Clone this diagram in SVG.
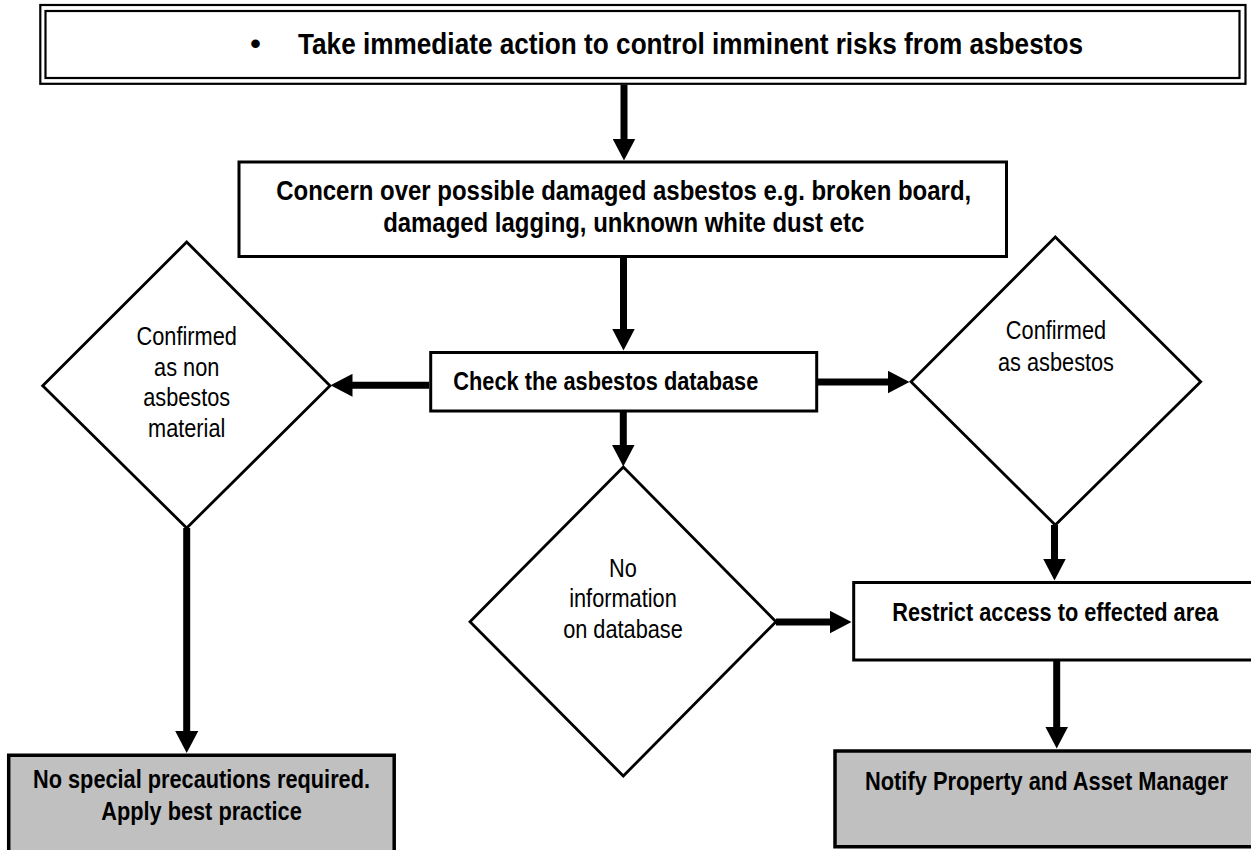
<svg xmlns="http://www.w3.org/2000/svg" width="1251" height="850" viewBox="0 0 1251 850">
<style>
text{font-family:"Liberation Sans",Arial,sans-serif;fill:#000}
.b{font-weight:bold}
.r{font-weight:normal;font-size:25px}
.m{text-anchor:middle}
.box{fill:#fff;stroke:#000;stroke-width:3}
.line{fill:none;stroke:#000;stroke-width:3}
.gline{fill:none;stroke:#000;stroke-width:3.5}
.gfill{fill:#c0c0c0}
.dia{fill:#fff;stroke:#000;stroke-width:2.8;stroke-linejoin:miter}
.con{fill:none;stroke:#000;stroke-width:7}
</style>
<defs>
<marker id="ah" markerUnits="userSpaceOnUse" markerWidth="22" markerHeight="23" viewBox="0 0 22 23" refX="0.5" refY="11.5" orient="auto">
<path d="M0,0 L22,11.5 L0,23 z" fill="#000"/>
</marker>
</defs>
<rect width="1251" height="850" fill="#fff"/>

<g id="connectors">
<path class="con" d="M624,85 V139" marker-end="url(#ah)"/>
<path class="con" d="M623.5,257 V329" marker-end="url(#ah)"/>
<path class="con" d="M429,385.3 H352" marker-end="url(#ah)"/>
<path class="con" d="M818,382 H888" marker-end="url(#ah)"/>
<path class="con" d="M623.3,412 V445" marker-end="url(#ah)"/>
<path class="con" d="M776,622 H830" marker-end="url(#ah)"/>
<path class="con" d="M186.7,528 V731.5" marker-end="url(#ah)"/>
<path class="con" d="M1054.5,525 V559" marker-end="url(#ah)"/>
<path class="con" d="M1056.7,661 V727" marker-end="url(#ah)"/>
</g>

<g id="n-top">
<rect x="40.3" y="5" width="1205.2" height="78.8" fill="#fff" stroke="#000" stroke-width="2.2"/>
<rect x="45.5" y="11" width="1194" height="67" fill="none" stroke="#000" stroke-width="2.2"/>
<text class="b m" x="255.5" y="53.5" font-size="30">•</text>
<text class="b" x="298" y="53.5" font-size="30" textLength="785" lengthAdjust="spacingAndGlyphs">Take immediate action to control imminent risks from asbestos</text>
</g>

<g id="n-concern">
<rect class="box" x="239" y="162" width="767.5" height="94.5"/>
<text class="b m" x="623.7" y="200" font-size="27.5" textLength="695" lengthAdjust="spacingAndGlyphs">Concern over possible damaged asbestos e.g. broken board,</text>
<text class="b m" x="623.7" y="232" font-size="27.5" textLength="481" lengthAdjust="spacingAndGlyphs">damaged lagging, unknown white dust etc</text>
</g>

<g id="n-check">
<rect class="box" x="430.7" y="352.5" width="386" height="58.5"/>
<text class="b" x="453.3" y="390" font-size="25" textLength="305" lengthAdjust="spacingAndGlyphs">Check the asbestos database</text>
</g>

<g id="n-nonasb">
<polygon class="dia" points="186.7,242 330,385.7 186.7,528 42.7,385.7"/>
<text class="r m" x="186.7" y="345" textLength="100.3" lengthAdjust="spacingAndGlyphs">Confirmed</text>
<text class="r m" x="186.7" y="375.7" textLength="65.3" lengthAdjust="spacingAndGlyphs">as non</text>
<text class="r m" x="186.7" y="406.2" textLength="87" lengthAdjust="spacingAndGlyphs">asbestos</text>
<text class="r m" x="186.7" y="436.8" textLength="77.3" lengthAdjust="spacingAndGlyphs">material</text>
</g>

<g id="n-asb">
<polygon class="dia" points="1055.3,237 1200.7,381.7 1055.3,525 911,381.7"/>
<text class="r m" x="1056" y="339.3" textLength="100.3" lengthAdjust="spacingAndGlyphs">Confirmed</text>
<text class="r m" x="1056" y="370.5" textLength="116" lengthAdjust="spacingAndGlyphs">as asbestos</text>
</g>

<g id="n-noinfo">
<polygon class="dia" points="623.3,467 776,621.7 623.3,776 470,621.7"/>
<text class="r m" x="623" y="576.7" textLength="27.8" lengthAdjust="spacingAndGlyphs">No</text>
<text class="r m" x="623" y="607" textLength="107.6" lengthAdjust="spacingAndGlyphs">information</text>
<text class="r m" x="623" y="638" textLength="119.7" lengthAdjust="spacingAndGlyphs">on database</text>
</g>

<g id="n-restrict">
<rect x="853.7" y="582.5" width="397.3" height="77.5" fill="#fff"/>
<path class="line" d="M1251,582.5 H853.7 V660 H1251"/>
<text class="b" x="892.3" y="621" font-size="25" textLength="326" lengthAdjust="spacingAndGlyphs">Restrict access to effected area</text>
</g>

<g id="n-nospecial">
<rect class="gfill" x="8.7" y="755.3" width="385.5" height="94.7"/>
<path class="gline" d="M8.7,850 V755.3 H394.2 V850"/>
<text class="b m" x="201.5" y="788.3" font-size="25" textLength="337" lengthAdjust="spacingAndGlyphs">No special precautions required.</text>
<text class="b m" x="201.5" y="820" font-size="25" textLength="200.6" lengthAdjust="spacingAndGlyphs">Apply best practice</text>
</g>

<g id="n-notify">
<rect class="gfill" x="835" y="751" width="416" height="95.7"/>
<path class="gline" d="M1251,751 H835 V846.7 H1251"/>
<text class="b" x="865" y="790" font-size="25" textLength="363" lengthAdjust="spacingAndGlyphs">Notify Property and Asset Manager</text>
</g>
</svg>
